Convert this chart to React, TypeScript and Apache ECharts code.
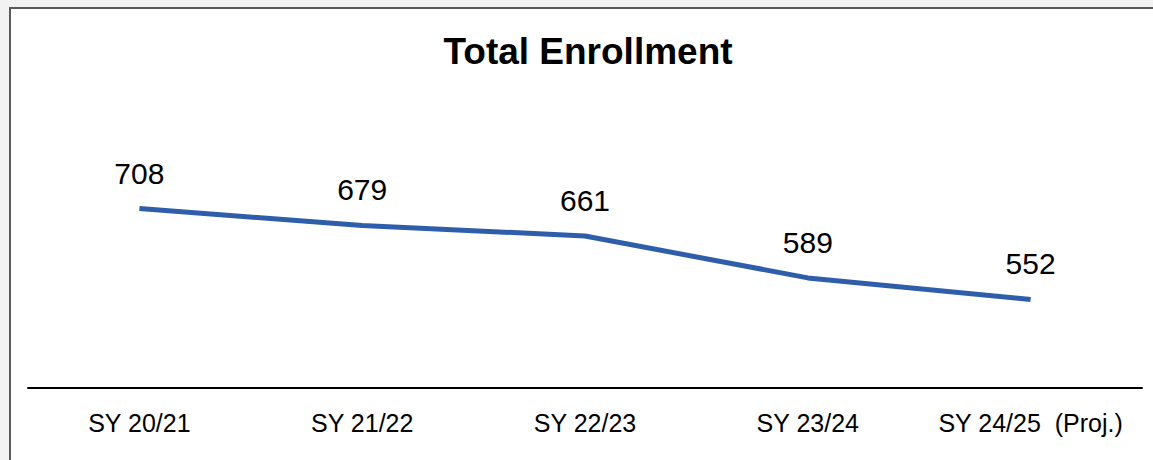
import React, { useEffect, useRef } from "react";
import * as echarts from "echarts";

const categories = ["SY 20/21", "SY 21/22", "SY 22/23", "SY 23/24", "SY 24/25  (Proj.)"];
const enrollment = [708, 679, 661, 589, 552];
const titleText = "Total Enrollment";

export default function App() {
  const ref = useRef<HTMLDivElement>(null);
  useEffect(() => {
    document.body.style.margin = "0";
    document.body.style.background = "#f2f2f2";
    const chart = echarts.init(ref.current!, null, { renderer: "svg" });
    chart.setOption({
      animation: false,
      backgroundColor: "#f2f2f2",
      graphic: [
        {
          type: "rect",
          z: -10,
          silent: true,
          shape: { x: 10, y: 8, width: 1200, height: 500 },
          style: { fill: "#ffffff", stroke: "#595959", lineWidth: 2 },
        },
      ],
      title: {
        text: titleText,
        left: 583,
        textAlign: "center",
        top: 28,
        textStyle: { fontFamily: "Liberation Sans, Arial, sans-serif", fontSize: 37, fontWeight: "bold", color: "#000" },
      },
      grid: { left: 28, right: 11, top: 155, bottom: 72, containLabel: false },
      xAxis: {
        type: "category",
        data: categories,
        boundaryGap: true,
        axisLine: { show: true, lineStyle: { color: "#000", width: 2 } },
        axisTick: { show: false },
        axisLabel: {
          interval: 0,
          hideOverlap: false,
          margin: 22,
          fontSize: 25,
          color: "#000",
          fontFamily: "Liberation Sans, Arial, sans-serif",
        },
      },
      yAxis: {
        type: "value",
        min: 400,
        max: 800,
        show: false,
        splitLine: { show: false },
      },
      series: [
        {
          type: "line",
          data: enrollment,
          symbol: "circle",
          symbolSize: 1,
          showSymbol: true,
          itemStyle: { color: "rgba(0,0,0,0)" },
          lineStyle: { color: "#2E5EAA", width: 5 },
          label: {
            show: true,
            position: "top",
            distance: 20,
            fontSize: 30,
            color: "#000",
            opacity: 1,
            fontFamily: "Liberation Sans, Arial, sans-serif",
          },
        },
      ],
    });
    return () => chart.dispose();
  }, []);
  return <div ref={ref} style={{ width: 1153, height: 460 }} />;
}
